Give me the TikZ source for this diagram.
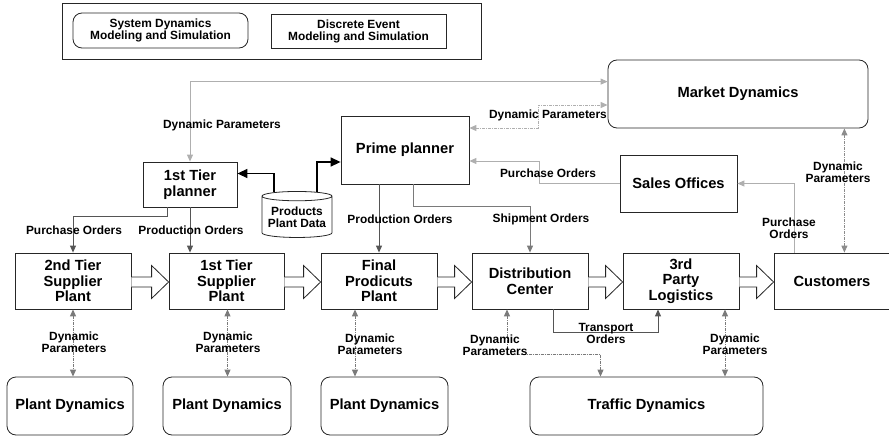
\documentclass[tikz,border=0pt]{standalone}
\usepackage{fontspec}
\setmainfont{Liberation Sans}
\usetikzlibrary{arrows.meta,calc,shapes.geometric}

\definecolor{lightline}{HTML}{AFAFAF}
\definecolor{midline}{HTML}{7A7A7A}
\definecolor{darkline}{HTML}{555555}

\newcommand\boxfont{\fontsize{14.7}{15.5}\selectfont\bfseries}
\newcommand\lblfont{\fontsize{11.9}{12}\selectfont\bfseries}

% wide hollow arrow between two plants
\newcommand\hollowarrow[2]{%
  \draw[hollow] ($(#1.east)+(0,-4)$) -- ($(#2.west)+(-17,-4)$) -- ($(#2.west)+(-17,-15.5)$)
    -- ($(#2.west)+(0,1)$) -- ($(#2.west)+(-17,17.5)$) -- ($(#2.west)+(-17,6)$) -- ($(#1.east)+(0,6)$);}

\begin{document}
\begin{tikzpicture}[x=1pt,y=-1pt,>={Triangle[length=7pt,width=6pt]},
  box/.style={draw=black!85,line width=0.8pt,inner sep=0pt,align=center,font=\boxfont},
  dynbox/.style={box,rounded corners=9pt},
  lbl/.style={inner sep=0pt,align=center,font=\lblfont},
  order/.style={draw=lightline,line width=0.9pt,->},
  dynpar/.style={draw=midline,line width=1pt,dash pattern=on 3pt off 1pt on 1pt off 1pt,<->},
  prod/.style={draw=darkline,line width=0.9pt,->},
  dataflow/.style={draw=black,line width=1.4pt,-{Triangle[length=10pt,width=9pt]}},
  hollow/.style={draw=black!85,line width=0.8pt,fill=white}]
  \useasboundingbox (0,0) rectangle (889,436);

  % Legend
  \node[box,minimum width=419,minimum height=56] (legend) at (271.5,31) {};
  \node[dynbox,font=\lblfont,minimum width=175,minimum height=35] (sdlgd) at (160.5,30.5) {System Dynamics\\Modeling and Simulation};
  \node[box,font=\lblfont,minimum width=175,minimum height=34] (delgd) at (358.5,31) {Discrete Event\\Modeling and Simulation};

  % Planners and market
  \node[dynbox,minimum width=260,minimum height=68] (market) at (738,94) {Market Dynamics};
  \node[box,minimum width=128,minimum height=68] (prime) at (405,150) {Prime planner};
  \node[box,minimum width=94,minimum height=45] (tplan) at (190,184.5) {1st Tier\\planner};
  \node[draw=black!85,line width=0.8pt,cylinder,shape border rotate=90,aspect=0.16,
        minimum width=70,minimum height=46,inner sep=0pt,align=center,font=\lblfont] (pdata) at (297,217) {Products\\Plant Data};
  \node[box,minimum width=117,minimum height=57] (sales) at (678.5,183.5) {Sales Offices};

  % Supply chain
  \node[box,minimum width=116,minimum height=56] (sup2) at (73,281) {2nd Tier\\Supplier\\Plant};
  \node[box,minimum width=115,minimum height=56] (sup1) at (226.5,281) {1st Tier\\Supplier\\Plant};
  \node[box,minimum width=116,minimum height=56] (final) at (379,281) {Final\\Prodicuts\\Plant};
  \node[box,minimum width=116,minimum height=56] (dc) at (530,281) {Distribution\\Center};
  \node[box,minimum width=116,minimum height=56] (tpl) at (681,281) {3rd\\Party\\Logistics};
  \node[box,minimum width=116,minimum height=56] (cust) at (832,281) {Customers};

  % Dynamics
  \node[dynbox,minimum width=126,minimum height=58] (pd1) at (70,406) {Plant Dynamics};
  \node[dynbox,minimum width=128,minimum height=58] (pd2) at (227,406) {Plant Dynamics};
  \node[dynbox,minimum width=127,minimum height=58] (pd3) at (384.5,406) {Plant Dynamics};
  \node[dynbox,minimum width=233,minimum height=58] (traffic) at (646.5,406) {Traffic Dynamics};

  % Material flow
  \hollowarrow{sup2}{sup1}
  \hollowarrow{sup1}{final}
  \hollowarrow{final}{dc}
  \hollowarrow{dc}{tpl}
  \hollowarrow{tpl}{cust}

  % Link ends
  \coordinate (mk) at ($(market.south east)+(-24,0)$);
  \coordinate (d2) at ($(sup1.south)+(1,0)$);
  \coordinate (d3) at ($(final.south)+(-24,0)$);
  \coordinate (d5) at ($(tpl.south)+(44,0)$);

  % Top links
  \draw[order,<->] (tplan.north) |- ($(market.north west)+(0,22)$);
  \node[lbl] (l1) at (222,125) {Dynamic Parameters};
  \draw[dynpar,draw=lightline] ($(prime.east)+(0,-22)$) -| ($(market.west)+(-69,11)$) -- ($(market.west)+(0,11)$);
  \node[lbl] (l2) at (548,115) {Dynamic Parameters};
  \draw[order] (sales.west) -| ($(prime.east)+(70,11)$) -- ($(prime.east)+(0,11)$);
  \node[lbl] (l3) at (548,173) {Purchase Orders};
  \draw[order] ($(cust.north west)+(21,0)$) |- (sales.east);
  \node[lbl] (l4) at (789,228) {Purchase\\Orders};
  \draw[dynpar,draw=lightline!80!black] (mk) -- (mk |- cust.north);
  \node[lbl] (l5) at (838,172) {Dynamic\\Parameters};

  % Product data
  \draw[dataflow] ($(pdata.north)+(-23,1)$) |- ($(tplan.east)+(0,-11)$);
  \draw[dataflow] ($(pdata.north)+(20,1)$) |- ($(prime.west)+(0,12)$);

  % Orders
  \draw[prod] (prime.south -| final.north) -- (final.north);
  \node[lbl] (l6) at (400,219) {Production Orders};
  \draw[prod,draw=midline] ($(prime.south)+(8,0)$) |- ($(dc.north)+(0,-46)$) -- (dc.north);
  \node[lbl] (l7) at (541,219) {Shipment Orders};
  \draw[prod] (tplan.south) -- (tplan.south |- sup1.north);
  \node[lbl] (l8) at (191,230) {Production Orders};
  \draw[prod] ($(tplan.south)+(-23,0)$) |- ($(sup2.north)+(0,-36)$) -- (sup2.north);
  \node[lbl] (l9) at (74,230) {Purchase Orders};
  \draw[prod] ($(dc.south)+(23,0)$) |- ($(tpl.south)+(-23,23)$) -- ($(tpl.south)+(-23,0)$);
  \node[lbl] (l10) at (606,333) {Transport\\Orders};

  % Dynamic parameters below
  \draw[dynpar] (sup2.south) -- (sup2.south |- pd1.north);
  \node[lbl] (l11) at (74,342) {Dynamic\\Parameters};
  \draw[dynpar] (d2) -- (d2 |- pd2.north);
  \node[lbl] (l12) at (228,342) {Dynamic\\Parameters};
  \draw[dynpar] (d3) -- (d3 |- pd3.north);
  \node[lbl] (l13) at (370,344) {Dynamic\\Parameters};
  \draw[dynpar] ($(dc.south)+(-23,0)$) |- ($(traffic.north)+(-46,-22)$) -- ($(traffic.north)+(-46,0)$);
  \node[lbl] (l14) at (495,345) {Dynamic\\Parameters};
  \draw[dynpar] (d5) -- (d5 |- traffic.north);
  \node[lbl] (l15) at (735,344) {Dynamic\\Parameters};
\end{tikzpicture}
\end{document}
